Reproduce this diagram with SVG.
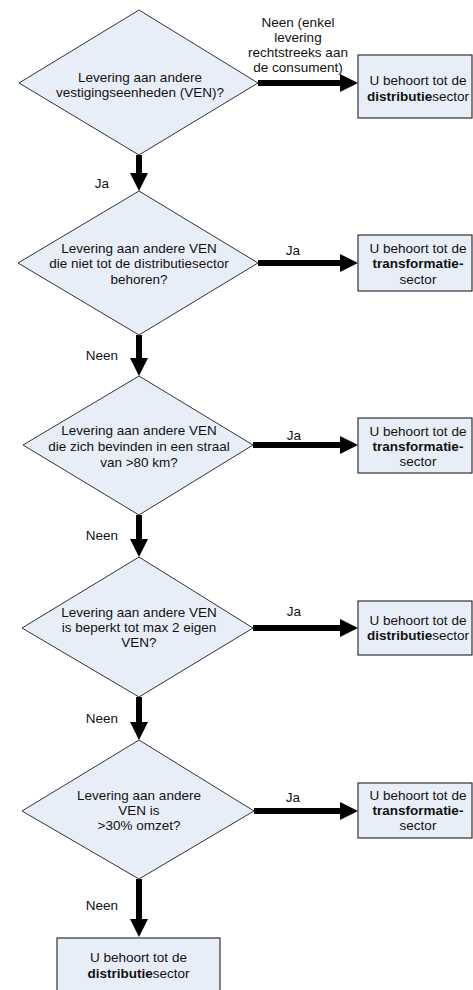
<svg xmlns="http://www.w3.org/2000/svg" width="473" height="990" viewBox="0 0 473 990">
<style>
text{font-family:"Liberation Sans",Arial,sans-serif;font-size:13.5px;fill:#111;text-anchor:middle}
.d{fill:#e8eef8;stroke:#333;stroke-width:1}
.b{fill:#e8eef8;stroke:#333;stroke-width:1.2}
.c{stroke:#000;stroke-width:6;fill:none;marker-end:url(#ah)}
.bd{font-weight:bold}
</style>
<defs>
<marker id="ah" markerUnits="userSpaceOnUse" markerWidth="19" markerHeight="18" refX="0" refY="9" orient="auto" overflow="visible">
<path d="M0,0 L18,9 L0,18 z" fill="#000"/>
</marker>
</defs>
<rect width="473" height="990" fill="#fff"/>
<g id="connectors">
<line class="c" x1="258" y1="83" x2="340" y2="83"/>
<line class="c" x1="139" y1="155" x2="139" y2="173"/>
<line class="c" x1="258" y1="263" x2="340" y2="263"/>
<line class="c" x1="139" y1="335" x2="139" y2="358"/>
<line class="c" x1="253" y1="445" x2="340" y2="445"/>
<line class="c" x1="139" y1="515" x2="139" y2="539"/>
<line class="c" x1="253" y1="628" x2="340" y2="628"/>
<line class="c" x1="139" y1="697" x2="139" y2="722"/>
<line class="c" x1="254" y1="811" x2="340" y2="811"/>
<line class="c" x1="139" y1="879" x2="139" y2="919"/>
<text x="298" y="27">Neen (enkel</text>
<text x="298" y="42">levering</text>
<text x="298" y="57">rechtstreeks aan</text>
<text x="298" y="72">de consument)</text>
<text x="102" y="188">Ja</text>
<text x="293" y="255">Ja</text>
<text x="102" y="360">Neen</text>
<text x="294" y="440">Ja</text>
<text x="102" y="540">Neen</text>
<text x="294" y="616">Ja</text>
<text x="102" y="723">Neen</text>
<text x="293" y="802">Ja</text>
<text x="102" y="910">Neen</text>
</g>
<g id="d1">
<polygon class="d" points="139,10 258,83 139,155 19,83"/>
<text x="140" y="82">Levering aan andere</text>
<text x="140" y="97">vestigingseenheden (VEN)?</text>
</g>
<g id="b1">
<rect class="b" x="358" y="55" width="114" height="63"/>
<text x="418" y="85">U behoort tot de</text>
<text x="418" y="101"><tspan class="bd">distributie</tspan>sector</text>
</g>
<g id="d2">
<polygon class="d" points="139,191 258,263 139,335 18,263"/>
<text x="139" y="253">Levering aan andere VEN</text>
<text x="139" y="268">die niet tot de distributiesector</text>
<text x="139" y="284">behoren?</text>
</g>
<g id="b2">
<rect class="b" x="358" y="235" width="114" height="56"/>
<text x="418" y="253">U behoort tot de</text>
<text x="418" y="268" class="bd">transformatie-</text>
<text x="418" y="284">sector</text>
</g>
<g id="d3">
<polygon class="d" points="139,376 253,445 139,515 23,445"/>
<text x="139" y="435">Levering aan andere VEN</text>
<text x="139" y="451">die zich bevinden in een straal</text>
<text x="139" y="467">van &gt;80 km?</text>
</g>
<g id="b3">
<rect class="b" x="358" y="418" width="114" height="55"/>
<text x="418" y="436">U behoort tot de</text>
<text x="418" y="451" class="bd">transformatie-</text>
<text x="418" y="466">sector</text>
</g>
<g id="d4">
<polygon class="d" points="139,557 253,628 139,697 22,628"/>
<text x="139" y="617">Levering aan andere VEN</text>
<text x="139" y="632">is beperkt tot max 2 eigen</text>
<text x="139" y="647">VEN?</text>
</g>
<g id="b4">
<rect class="b" x="358" y="601" width="114" height="54"/>
<text x="418" y="625">U behoort tot de</text>
<text x="418" y="640"><tspan class="bd">distributie</tspan>sector</text>
</g>
<g id="d5">
<polygon class="d" points="139,740 254,811 139,879 22,811"/>
<text x="139" y="800">Levering aan andere</text>
<text x="139" y="815">VEN is</text>
<text x="139" y="830">&gt;30% omzet?</text>
</g>
<g id="b5">
<rect class="b" x="358" y="783" width="114" height="55"/>
<text x="418" y="800">U behoort tot de</text>
<text x="418" y="815" class="bd">transformatie-</text>
<text x="418" y="830">sector</text>
</g>
<g id="b6">
<rect class="b" x="57" y="938" width="163" height="60"/>
<text x="138.5" y="962">U behoort tot de</text>
<text x="138.5" y="978"><tspan class="bd">distributie</tspan>sector</text>
</g>
</svg>
